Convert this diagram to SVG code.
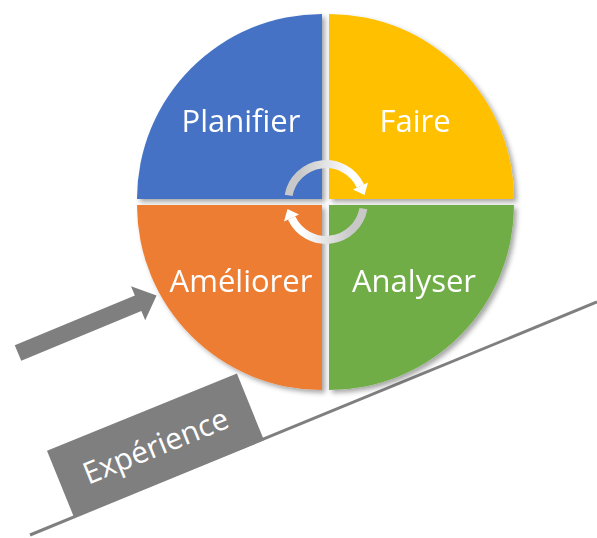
<svg xmlns="http://www.w3.org/2000/svg" width="597" height="538" viewBox="0 0 597 538">
<defs>
<filter id="sh" x="-10%" y="-10%" width="130%" height="130%">
<feGaussianBlur in="SourceAlpha" stdDeviation="2.5"/>
<feOffset dx="3" dy="3" result="b"/>
<feFlood flood-color="#000" flood-opacity="0.35"/>
<feComposite in2="b" operator="in"/>
<feMerge><feMergeNode/><feMergeNode in="SourceGraphic"/></feMerge>
</filter>
<linearGradient id="g1" gradientUnits="userSpaceOnUse" x1="300" y1="0" x2="352" y2="0">
<stop offset="0" stop-color="#c8c8c8"/><stop offset="1" stop-color="#ffffff"/>
</linearGradient>
<linearGradient id="g2" gradientUnits="userSpaceOnUse" x1="352" y1="0" x2="300" y2="0">
<stop offset="0" stop-color="#c8c8c8"/><stop offset="1" stop-color="#ffffff"/>
</linearGradient>
</defs>
<style>
.lbl{font-family:"Open Sans","DejaVu Sans",sans-serif;font-size:31px;fill:#fff;text-anchor:middle}
.exp{font-family:"Open Sans","DejaVu Sans",sans-serif;font-size:30px;fill:#fff;text-anchor:middle}
</style>
<rect width="597" height="538" fill="#fff"/>
<g id="slope">
<line x1="30" y1="535" x2="597" y2="302" stroke="#7f7f7f" stroke-width="3"/>
</g>
<g id="experience" transform="translate(155.5,445.5) rotate(-22.1)">
<rect x="-102.5" y="-36" width="205" height="72" fill="#7f7f7f"/>
<text class="exp" x="0" y="11">Expérience</text>
</g>
<g id="push-arrow" transform="translate(18,353) rotate(-22.5)">
<polygon points="0,-8.5 130,-8.5 130,-18.5 150,0 130,18.5 130,8.5 0,8.5" fill="#7f7f7f"/>
</g>
<g id="planifier" filter="url(#sh)">
<path d="M322,199 L137,199 A185,185 0 0 1 322,14 Z" fill="#4472C4"/>
<text class="lbl" x="241" y="132">Planifier</text>
</g>
<g id="faire" filter="url(#sh)">
<path d="M329,199 L329,14 A185,185 0 0 1 514,199 Z" fill="#FFC000"/>
<text class="lbl" x="415" y="132">Faire</text>
</g>
<g id="ameliorer" filter="url(#sh)">
<path d="M322,205 L322,390 A185,185 0 0 1 137,205 Z" fill="#ED7D31"/>
<text class="lbl" x="241" y="292">Améliorer</text>
</g>
<g id="analyser" filter="url(#sh)">
<path d="M329,205 L514,205 A185,185 0 0 1 329,390 Z" fill="#70AD47"/>
<text class="lbl" x="414" y="292">Analyser</text>
</g>
<g id="connectors">
<path d="M288.6,195.4 A38,38 0 0 1 360.4,186" fill="none" stroke="url(#g1)" stroke-width="8"/>
<polygon points="368,182.6 353,189.6 364.5,195" fill="#fff"/>
<path d="M363.4,208.6 A38,38 0 0 1 291.6,218" fill="none" stroke="url(#g2)" stroke-width="8"/>
<polygon points="284,221.4 299,214.4 287.5,209" fill="#fff"/>
</g>
</svg>
